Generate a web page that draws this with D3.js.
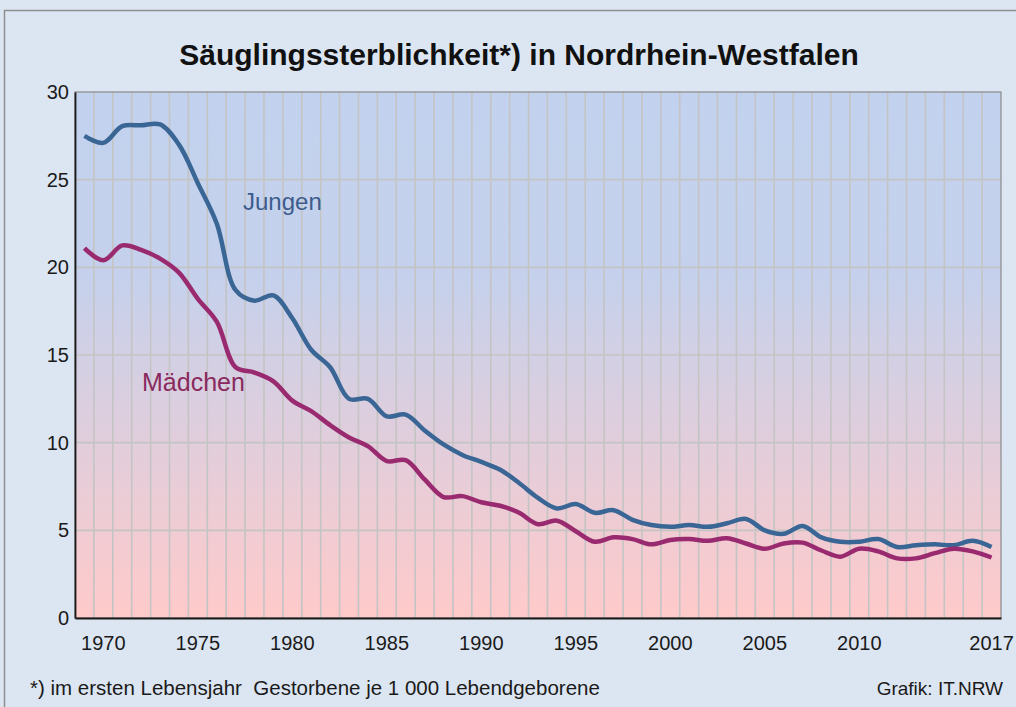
<!DOCTYPE html>
<html>
<head>
<meta charset="utf-8">
<script src="https://cdn.jsdelivr.net/npm/d3@7/dist/d3.min.js"></script>
<style>
  body { margin: 0; background: #dce6f2; }
  svg { display: block; font-family: "Liberation Sans", Arial, sans-serif; }
</style>
</head>
<body>
<div id="chart"></div>
<script>
// Jahre 1969 - 2017
var years = d3.range(1969, 2018);

// Gestorbene im ersten Lebensjahr je 1 000 Lebendgeborene
var jungen = [27.5, 27.1, 28.05, 28.1, 28.15, 27.0, 24.8, 22.5, 18.7, 18.1,
              18.4, 17.1, 15.3, 14.3, 12.5, 12.5, 11.5, 11.6, 10.7, 9.9,
              9.3, 8.9, 8.45, 7.7, 6.85, 6.25, 6.5, 6.0, 6.15, 5.6,
              5.3, 5.2, 5.3, 5.2, 5.4, 5.65, 5.0, 4.8, 5.25, 4.6,
              4.35, 4.35, 4.5, 4.05, 4.15, 4.2, 4.15, 4.4, 4.05];

var maedchen = [21.1, 20.4, 21.25, 21.0, 20.5, 19.7, 18.2, 16.9, 14.3, 14.0,
                13.5, 12.4, 11.8, 11.0, 10.3, 9.8, 8.95, 9.0, 7.9, 6.9,
                6.95, 6.6, 6.4, 6.0, 5.35, 5.55, 4.95, 4.35, 4.6, 4.5,
                4.2, 4.45, 4.5, 4.4, 4.55, 4.25, 3.95, 4.25, 4.3, 3.85,
                3.5, 3.95, 3.8, 3.4, 3.4, 3.7, 3.95, 3.8, 3.45];

var yTicks = [0, 5, 10, 15, 20, 25, 30];
var xTickYears = [1970, 1975, 1980, 1985, 1990, 1995, 2000, 2005, 2010, 2017];

var W = 1016, H = 707;
var margin = { top: 92, right: 15, bottom: 89, left: 75 };
var width = W - margin.left - margin.right,
    height = H - margin.top - margin.bottom;

var svg = d3.select("#chart").append("svg")
    .attr("width", W)
    .attr("height", H);

// outer frame
svg.append("rect")
    .attr("x", 4.5).attr("y", 10.5)
    .attr("width", W + 10).attr("height", H + 10)
    .attr("fill", "#dce6f2")
    .attr("stroke", "#8f8f8f")
    .attr("stroke-width", 1.5);

var defs = svg.append("defs");
var grad = defs.append("linearGradient")
    .attr("id", "bg")
    .attr("x1", 0).attr("y1", 0).attr("x2", 0).attr("y2", 1);
grad.append("stop").attr("offset", "0%").attr("stop-color", "#c2d2ee");
grad.append("stop").attr("offset", "35%").attr("stop-color", "#c5d1ec");
grad.append("stop").attr("offset", "100%").attr("stop-color", "#ffcaca");

var g = svg.append("g")
    .attr("transform", "translate(" + margin.left + "," + margin.top + ")");

var x = d3.scaleBand().domain(years).range([0, width]);
var y = d3.scaleLinear().domain([0, 30]).range([height, 0]);

g.append("rect")
    .attr("width", width)
    .attr("height", height)
    .attr("fill", "url(#bg)");

// vertical gridlines between the years
g.selectAll(".vgrid")
    .data(years.slice(1))
    .enter().append("line")
    .attr("class", "vgrid")
    .attr("x1", function (d) { return x(d); })
    .attr("x2", function (d) { return x(d); })
    .attr("y1", 0)
    .attr("y2", height)
    .attr("stroke", "#c4c4c4")
    .attr("stroke-width", 1.6);

// horizontal gridlines
g.selectAll(".hgrid")
    .data(yTicks.slice(1, -1))
    .enter().append("line")
    .attr("class", "hgrid")
    .attr("x1", 0)
    .attr("x2", width)
    .attr("y1", function (d) { return y(d); })
    .attr("y2", function (d) { return y(d); })
    .attr("stroke", "#c4c4c4")
    .attr("stroke-width", 1.6);

// plot frame
g.append("rect")
    .attr("width", width)
    .attr("height", height)
    .attr("fill", "none")
    .attr("stroke", "#8a8a8a")
    .attr("stroke-width", 1.2);

// axes
var yAxis = d3.axisLeft(y).tickValues(yTicks).tickSize(0).tickPadding(6);
var yG = g.append("g").call(yAxis);
yG.select(".domain").attr("stroke", "#1a1a1a").attr("stroke-width", 1.8);
yG.selectAll("text")
    .style("font-size", "20px")
    .attr("fill", "#1a1a1a");

var xAxis = d3.axisBottom(x).tickValues(xTickYears).tickSize(0).tickPadding(18);
var xG = g.append("g")
    .attr("transform", "translate(0," + height + ")")
    .call(xAxis);
xG.select(".domain").attr("stroke", "#1a1a1a").attr("stroke-width", 1.8);
xG.selectAll("text")
    .style("font-size", "20px")
    .attr("fill", "#1a1a1a");

// lines
var line = d3.line()
    .x(function (d, i) { return x(years[i]) + x.bandwidth() / 2; })
    .y(function (d) { return y(d); })
    .curve(d3.curveCatmullRom.alpha(0.5));

g.append("path")
    .attr("d", line(jungen))
    .attr("fill", "none")
    .attr("stroke", "#3a6696")
    .attr("stroke-width", 4.5)
    .attr("stroke-linejoin", "round");

g.append("path")
    .attr("d", line(maedchen))
    .attr("fill", "none")
    .attr("stroke", "#9a2a70")
    .attr("stroke-width", 4.5)
    .attr("stroke-linejoin", "round");

// series labels
g.append("text")
    .attr("x", 168).attr("y", 118)
    .attr("fill", "#3d5c8c")
    .style("font-size", "24px")
    .text("Jungen");

g.append("text")
    .attr("x", 67).attr("y", 299)
    .attr("fill", "#8a2a5e")
    .style("font-size", "25px")
    .text("Mädchen");

// title
svg.append("text")
    .attr("x", 519).attr("y", 65)
    .attr("text-anchor", "middle")
    .style("font-size", "30px")
    .style("font-weight", "bold")
    .attr("fill", "#111")
    .text("Säuglingssterblichkeit*) in Nordrhein-Westfalen");

// footer
svg.append("text")
    .attr("x", 30).attr("y", 695)
    .style("font-size", "20.5px")
    .attr("fill", "#1a1a1a")
    .attr("xml:space", "preserve")
    .text("*) im ersten Lebensjahr  Gestorbene je 1 000 Lebendgeborene");

svg.append("text")
    .attr("x", 1003).attr("y", 695)
    .attr("text-anchor", "end")
    .style("font-size", "19px")
    .attr("fill", "#1a1a1a")
    .text("Grafik: IT.NRW");
</script>
</body>
</html>
